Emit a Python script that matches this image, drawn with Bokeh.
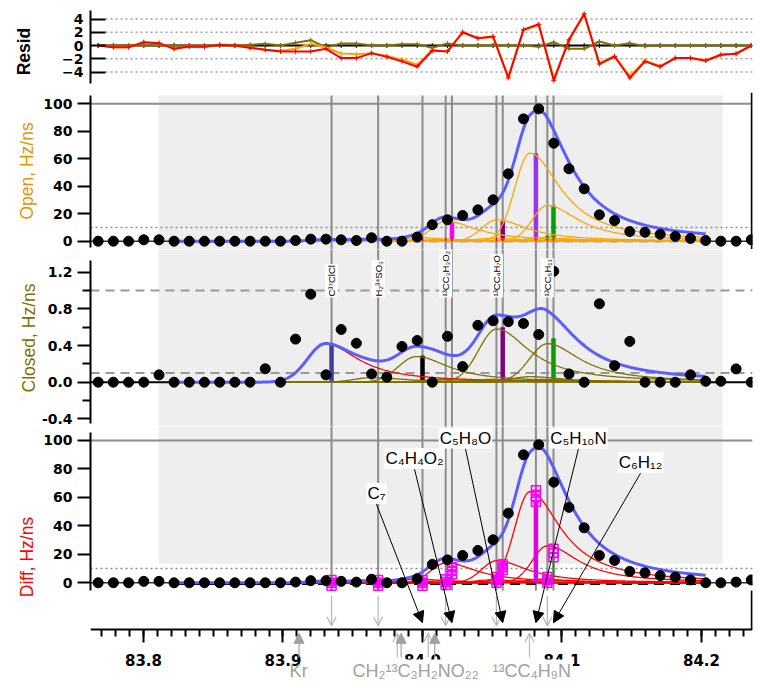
import numpy as np
from bokeh.plotting import figure
from bokeh.layouts import column
from bokeh.models import (Range1d, Span, Label, Arrow, NormalHead, OpenHead,
                          FixedTicker, SingleIntervalTicker, PrintfTickFormatter,
                          BoxAnnotation)
from bokeh.embed import file_html
from bokeh.resources import INLINE

# ---------------- data ----------------
mass = [83.7675, 83.7784, 83.7893, 83.8002, 83.8111, 83.8219, 83.8328, 83.8437,
        83.8546, 83.8655, 83.8764, 83.8873, 83.8982, 83.9090, 83.9199, 83.9308,
        83.9417, 83.9526, 83.9635, 83.9744, 83.9853, 83.9962, 84.0070, 84.0179,
        84.0288, 84.0397, 84.0506, 84.0615, 84.0724, 84.0833, 84.0941, 84.1050,
        84.1159, 84.1268, 84.1377, 84.1486, 84.1595, 84.1704, 84.1812, 84.1921,
        84.2030, 84.2139, 84.2248, 84.2357]
open_signal = [0, 0, 0, 1, 1, 0, 0, 0, 0, 0, 0, 0, 0, 0.5, 1.5, 1.5, 1, 0.5, 2.5, 0,
               0, 3, 12, 15.6, 18.7, 22.8, 30.1, 49, 89, 96.3, 71.3, 52.7, 38.1, 19.2,
               15, 7, 6.5, 5, 3.5, 2, 0.5, 0, 0, 1]
closed_signal = [0, 0, 0, 0, 0.08, 0, 0, 0, 0, 0, 0, 0.146, 0, 0.47, 0.96, 0.08, 0.575,
                 0.425, 0.09, 0.055, 0.39, 0.455, 0.0, 0.5, 0.17, 0.62, 0.67, 0.66, 0.64,
                 0.52, 1.21, 0.09, 0.0, 0.855, 0.18, 0.445, 0, 0, 0, 0.08, 0.01, 0.01,
                 0.145, 0]
diff_signal = [0, 0, 0, 1, 1, 0, 0, 0, 0, 0, 0, 0, 0, 0.5, 1.5, 1.5, 1, 0.5, 2.5, 0,
               0, 2.8, 12.9, 16.1, 19.2, 22.7, 30.2, 48.9, 89.9, 97, 70.7, 53, 38.6,
               19.2, 15.7, 8, 7, 5, 4, 2, 0, 0, 0.5, 2]
resid_diff = [0, -0.25, -0.25, 0.5, 0.35, -0.5, -0.15, -0.2, 0.1, 0, -0.35, -0.65, -0.9,
              -0.9, -0.9, -0.5, -1.9, -1.9, -1.15, -1.7, -2.4, -3.2, -0.75, -0.9, 2.0,
              1.1, 1.36, -4.9, 2.4, 3.2, -5.3, 0.86, 4.8, -2.8, -1.66, -4.9, -2.4, -3.2,
              -1.9, -1.9, -2.3, -1.4, -1.26, 0]
resid_open = [0, -0.25, -0.25, 0.5, 0.35, -0.5, -0.15, -0.2, 0.1, 0, -0.35, -0.65, -0.8,
              -0.5, 0.25, -0.3, -1.2, -1.3, -1.2, -1.6, -2.1, -2.9, -0.7, -0.9, 2.0,
              1.1, 1.3, -4.7, 2.3, 3.1, -5.0, 0.8, 4.6, -2.6, -1.6, -4.6, -2.3, -3.1,
              -1.9, -1.9, -2.2, -1.4, -1.2, 0]
resid_closed = [0, 0, 0, 0, 0, 0, 0, 0, 0, 0, 0.1, 0.25, 0, 0.4, 0.8, -0.3, 0.3, 0.3, 0,
                0, 0.2, 0.2, -0.35, 0.3, 0, 0, 0, 0, 0, -0.2, 0.5, -0.5, -0.5, 0.6, 0,
                0.35, -0.1, 0, 0, 0, 0, 0, 0, 0]
resid_total = [0] * 44

peak_names = ["C³⁷ClCl", "H₂³⁴SO₃", "C₇", "¹³CC₃H₃O₂", "C₄H₄O₂", "¹³CC₄H₇O",
              "C₅H₈O", "C₅H₁₀N", "¹³CC₅H₁₁", "C₆H₁₂"]
peak_mass = [83.9348, 83.9682, 84.0000, 84.0166, 84.0211, 84.0530, 84.0575, 84.0813,
             84.0895, 84.0939]
open_height = [1.2, 1.0, 2.5, 1.2, 14.5, 2.0, 15.5, 64.0, 2.5, 26.0]
closed_height = [0.42, 0.05, 0.28, 0.03, 0.03, 0.03, 0.58, 0.06, 0.03, 0.42]
diff_height = [1.2, 1.0, 2.5, 1.2, 14.0, 2.0, 15.5, 64.0, 2.5, 26.0]

open_stick = [0, 0, 0, 0, 13.8, 0, 14.3, 64.0, 4.0, 26.0]
closed_stick = [0.41, 0, 0.29, 0, 0, 0, 0.60, 0, 0.03, 0.48]
diff_value = [0, 0, 0, 0.5, 8.5, 2, 11, 61, 2, 21]
diff_error = [2, 2, 2, 2, 2.5, 2, 2, 4, 2, 3]
diff_stick = [0, 0, 0, 0, 8.5, 0, 11, 58, 0, 18]

iso_names = ["C³⁷ClCl", "H₂³⁴SO₃", "¹³CC₃H₃O₂", "¹³CC₄H₇O", "¹³CC₅H₁₁"]
iso_mass = [83.9348, 83.9682, 84.0166, 84.0530, 84.0895]

callout_names = ["C₇", "C₄H₄O₂", "C₅H₈O", "C₅H₁₀N", "C₆H₁₂"]
callout_mass = [84.0000, 84.0211, 84.0575, 84.0813, 84.0939]

bottom_names = ["Kr", "CH₂¹³C₃H₂NO₂₂", "¹³CC₄H₉N"]
bottom_arrow_mass = [83.9115, 83.9819, 83.9847, 84.0041, 84.0088, 84.0767]
bottom_arrow_filled = [True, False, True, False, True, False]

# ---------------- layout constants (positions / styles) ----------------
W = 756
X0, X1 = 83.76201, 84.23656
GRAY_L, GRAY_R = 83.8108, 84.2151
FIT_L, FIT_R = 83.8219, 84.2030
OPEN_SHAPE = (0.0108, 0.0272, -0.0043)     # left sigma, right half width, mode shift
CLOSED_SHAPE = (0.0129, 0.0287, -0.0043)
AXIS_Y = -32.8                              # x axis position in Diff units

callout_x = [83.9670, 83.9943, 84.0308, 84.1118, 84.1563]
callout_y = [62.7, 87.3, 101.7, 101.7, 84.5]
bottom_label_x = [83.9112, 83.9484, 84.0487]
bottom_label_align = ["center", "left", "left"]
bottom_label_bg = [None, "white", "white"]

ORANGE = "#ffa500"
OLIVE = "#807000"
BLUE = "#5c5cff"
RED = "#ff0000"
GRAYLINE = "#8c8c8c"
FILLGRAY = "#eeeeee"
stick_col_open = [None, None, None, None, "#ff00ff", None, "#800080", "#9933ee",
                  "#00a000", "#00a000"]
stick_col_closed = ["#40409a", None, "black", None, None, None, "#800080", None,
                    "#00a000", "#00a000"]
stick_col_diff = [None, None, None, None, "#ff00ff", None, "#ff00ff", "#e000e0",
                  None, "#00a000"]

xr = Range1d(X0, X1)


def profile(m, center, height, shape):
    sig_l, hw_r, shift = shape
    d = m - (center + shift)
    return np.where(d < 0, height * np.exp(-0.5 * (d / sig_l) ** 2),
                    height / (1.0 + (d / hw_r) ** 2))


grid = np.linspace(FIT_L, FIT_R, 600)


def base_fig(h, y0, y1, top=0, bottom=0):
    p = figure(width=W, height=h, x_range=xr, y_range=Range1d(y0, y1),
               output_backend="svg", toolbar_location=None,
               min_border_left=90, min_border_right=4,
               min_border_top=top, min_border_bottom=bottom)
    p.outline_line_color = None
    p.grid.visible = False
    p.background_fill_color = "white"
    return p


def yaxis_style(p, label, color, ticks, bounds, label_standoff, tick_in=0,
                tick_out=13, minor=None, bold=False, fmt=None):
    ax = p.yaxis[0]
    ax.ticker = FixedTicker(ticks=ticks, minor_ticks=minor or [])
    if fmt:
        ax.formatter = PrintfTickFormatter(format=fmt)
    ax.bounds = bounds
    ax.axis_line_width = 2
    ax.axis_line_color = "black"
    ax.major_tick_line_width = 2
    ax.minor_tick_line_width = 2
    ax.major_tick_in = tick_in
    ax.major_tick_out = tick_out
    ax.minor_tick_in = 0
    ax.minor_tick_out = 8 if minor else 0
    if not minor:
        ax.minor_tick_line_color = None
    ax.major_label_standoff = 5 if tick_out else 7
    ax.major_label_text_font = "DejaVu Sans"
    ax.major_label_text_font_style = "bold"
    ax.major_label_text_font_size = "14px"
    ax.major_label_text_color = "black"
    ax.axis_label = label
    ax.axis_label_text_color = color
    ax.axis_label_text_font = "Liberation Sans"
    ax.axis_label_text_font_size = "17.5px"
    ax.axis_label_text_font_style = "bold" if bold else "normal"
    ax.axis_label_standoff = label_standoff


def hline(p, y, color, width, dash="solid", x0=X0, x1=X1):
    p.segment(x0=[x0], y0=[y], x1=[x1], y1=[y], line_color=color,
              line_width=width, line_dash=dash)


def components(p, heights, shape, colors, width=1.3):
    total = np.zeros_like(grid)
    for c, h, col in zip(peak_mass, heights, colors):
        y = profile(grid, c, h, shape)
        total += y
        p.line(grid, y, line_color=col, line_width=width)
    return total


# ---------------- Resid panel ----------------
pr = base_fig(92, -7.094, 5.283, top=10)
pr.xaxis.visible = False
yaxis_style(pr, "Resid", "black", [-4, -2, 0, 2, 4], (-5.8, 5.3), 25,
            tick_in=15, tick_out=0, bold=True)
for yv in [4, 2, -2, -4]:
    hline(pr, yv, "#a0a0a0", 1.5, "2 3", x0=83.7728)
for series, col in [(resid_total, "black"), (resid_closed, OLIVE),
                    (resid_open, ORANGE), (resid_diff, RED)]:
    pr.line(mass, series, line_color=col, line_width=2)
    pr.scatter(mass, series, marker="cross", size=5, line_color=col, line_width=1)

# ---------------- Open panel ----------------
po = base_fig(157, -6.04, 108.2)
po.xaxis.visible = False
yaxis_style(po, "Open, Hz/ns", "#e69500", [0, 20, 40, 60, 80, 100], (-4.6, 106), 3)
po.add_layout(BoxAnnotation(left=GRAY_L, right=GRAY_R, top=106, fill_color=FILLGRAY,
                            fill_alpha=1, line_color=None, level="underlay"))
hline(po, 100, GRAYLINE, 2)
hline(po, 10, "#8c8c8c", 1.5, "2 3")
hline(po, 0, "#a0a0a0", 2.5, "9 6", x0=FIT_L, x1=FIT_R)
po.segment(x0=peak_mass, y0=[-15] * 10, x1=peak_mass, y1=[106] * 10,
           line_color=GRAYLINE, line_width=2)
hline(po, 0, "#333333", 1.5, x1=FIT_L)
hline(po, 0, "#333333", 1.5, x0=FIT_R)
for m, h, col in zip(peak_mass, open_stick, stick_col_open):
    if h > 0:
        po.segment(x0=[m], y0=[0], x1=[m], y1=[h], line_color=col, line_width=4.5)
tot = components(po, open_height, OPEN_SHAPE, [ORANGE] * 10)
po.segment(x0=peak_mass, y0=[0] * 10, x1=peak_mass, y1=[2.5] * 10,
           line_color=RED, line_width=1.5)
po.line(grid, tot, line_color=BLUE, line_width=3)
po.scatter(mass, open_signal, size=10, color="black")
po.add_layout(Span(location=X1 - 0.0005, dimension="height", line_color="black",
                   line_width=2))

# ---------------- Closed panel ----------------
pc = base_fig(177, -0.4833, 1.4476)
pc.xaxis.visible = False
yaxis_style(pc, "Closed, Hz/ns", OLIVE, [-0.4, 0.0, 0.4, 0.8, 1.2], (-0.45, 1.327), 0,
            minor=[-0.2, 0.2, 0.6, 1.0], fmt="%.1f")
pc.add_layout(BoxAnnotation(left=GRAY_L, right=GRAY_R, fill_color=FILLGRAY,
                            fill_alpha=1, line_color=None, level="underlay"))
hline(pc, 1.0, "#999999", 2, "9 6")
hline(pc, 0.1, "#999999", 2, "9 6")
pc.segment(x0=peak_mass, y0=[-1] * 10, x1=peak_mass, y1=[2] * 10,
           line_color=GRAYLINE, line_width=2)
hline(pc, 0, "black", 2, x1=FIT_L)
hline(pc, 0, "black", 2, x0=FIT_R)
for m, h, col in zip(peak_mass, closed_stick, stick_col_closed):
    if h > 0:
        pc.segment(x0=[m], y0=[0], x1=[m], y1=[h], line_color=col, line_width=4.5)
tot = components(pc, closed_height, CLOSED_SHAPE, [RED] + [OLIVE] * 9)
pc.line(grid, tot, line_color=BLUE, line_width=3)
pc.scatter(mass, closed_signal, size=10, color="black")
for name, m in zip(iso_names, iso_mass):
    pc.add_layout(Label(x=m, y=0.924, text=name, angle=90, angle_units="deg",
                        text_align="left", text_baseline="middle",
                        text_font="Liberation Sans", text_font_size="9.5px",
                        text_color="black", background_fill_color="white",
                        padding=1))

# ---------------- Diff panel + x axis ----------------
pd_ = base_fig(261, -73.57, 109.82, bottom=0)
yaxis_style(pd_, "Diff, Hz/ns", RED, [0, 20, 40, 60, 80, 100], (-5.4, 105.6), 3)
xa = pd_.xaxis[0]
xa.fixed_location = AXIS_Y
xa.ticker = SingleIntervalTicker(interval=0.1, num_minor_ticks=10)
xa.formatter = PrintfTickFormatter(format="%.1f")
xa.axis_line_width = 2
xa.major_tick_line_width = 2
xa.minor_tick_line_width = 2
xa.major_tick_in = 0
xa.major_tick_out = 13
xa.minor_tick_in = 0
xa.minor_tick_out = 7
xa.major_label_standoff = 12
xa.major_label_text_font = "DejaVu Sans"
xa.major_label_text_font_style = "bold"
xa.major_label_text_font_size = "15px"
xa.major_label_text_color = "black"

pd_.add_layout(BoxAnnotation(left=GRAY_L, right=GRAY_R, bottom=13.4, fill_color=FILLGRAY,
                             fill_alpha=1, line_color=None, level="underlay"))
hline(pd_, 100, GRAYLINE, 2)
hline(pd_, 10, "#8c8c8c", 1.5, "2 3")
pd_.segment(x0=peak_mass, y0=[-5.4] * 10, x1=peak_mass, y1=[120] * 10,
            line_color=GRAYLINE, line_width=2)
hline(pd_, 0, "#333333", 1.5, x1=FIT_L)
hline(pd_, 0, "#333333", 1.5, x0=FIT_R)
hline(pd_, -0.7, "black", 2.5, "10 6", x0=FIT_L, x1=FIT_R)
tot = components(pd_, diff_height, OPEN_SHAPE, [RED] * 10)
pd_.line(grid, tot, line_color=BLUE, line_width=3)
for m, h, col in zip(peak_mass, diff_stick, stick_col_diff):
    if h > 0 and col:
        pd_.segment(x0=[m], y0=[0], x1=[m], y1=[h], line_color=col,
                    line_width=4.5 if h > 40 else 2)
lo = [v - e for v, e in zip(diff_value, diff_error)]
hi = [v + e for v, e in zip(diff_value, diff_error)]
pd_.segment(x0=peak_mass, y0=lo, x1=peak_mass, y1=hi, line_color="#ff00ff", line_width=1.5)
for ys in (lo, diff_value, hi):
    pd_.scatter(peak_mass, ys, marker="square_cross", size=9, fill_color=None,
                line_color="#ff00ff", line_width=1.5)
pd_.scatter(mass, diff_signal, size=10, color="black")
pd_.segment(x0=[X1 - 0.0005], y0=[-5.4], x1=[X1 - 0.0005], y1=[AXIS_Y],
            line_color="black", line_width=2)

# isotope down arrows (light gray)
for m in iso_mass:
    pd_.add_layout(Arrow(x_start=m, y_start=-9.1, x_end=m, y_end=-30.2,
                         line_color="#b4b4b4", line_width=1.2,
                         end=OpenHead(size=9, line_color="#b4b4b4", line_width=1.2)))
# callouts
for name, m, lx, ly in zip(callout_names, callout_mass, callout_x, callout_y):
    pd_.add_layout(Arrow(x_start=lx, y_start=ly - 7.5, x_end=m, y_end=-28.0,
                         line_color="black", line_width=1,
                         end=NormalHead(size=11, fill_color="black", line_color="black")))
for name, lx, ly in zip(callout_names, callout_x, callout_y):
    pd_.add_layout(Label(x=lx, y=ly, text=name, text_align="center",
                         text_baseline="middle", text_font="Liberation Sans",
                         text_font_size="17px", text_color="black",
                         background_fill_color="white", padding=1))
# annotations under the axis
for m, filled in zip(bottom_arrow_mass, bottom_arrow_filled):
    col = "#a0a0a0" if filled else "#b8b8b8"
    head = (NormalHead(size=10, fill_color=col, line_color=col) if filled
            else OpenHead(size=9, line_color=col, line_width=1.2))
    pd_.add_layout(Arrow(x_start=m, y_start=-52.3, x_end=m, y_end=-35.5,
                         line_color=col, line_width=1.2, end=head))
for name, lx, al, bg in zip(bottom_names, bottom_label_x, bottom_label_align,
                            bottom_label_bg):
    pd_.add_layout(Label(x=lx, y=-62.3, text=name, text_align=al,
                         text_baseline="middle", text_font="Liberation Sans",
                         text_font_size="18px", text_color="#a0a0a0",
                         background_fill_color=bg, padding=2))

layout = column(pr, po, pc, pd_, spacing=0)
open("out.html", "w").write(file_html(layout, INLINE))
